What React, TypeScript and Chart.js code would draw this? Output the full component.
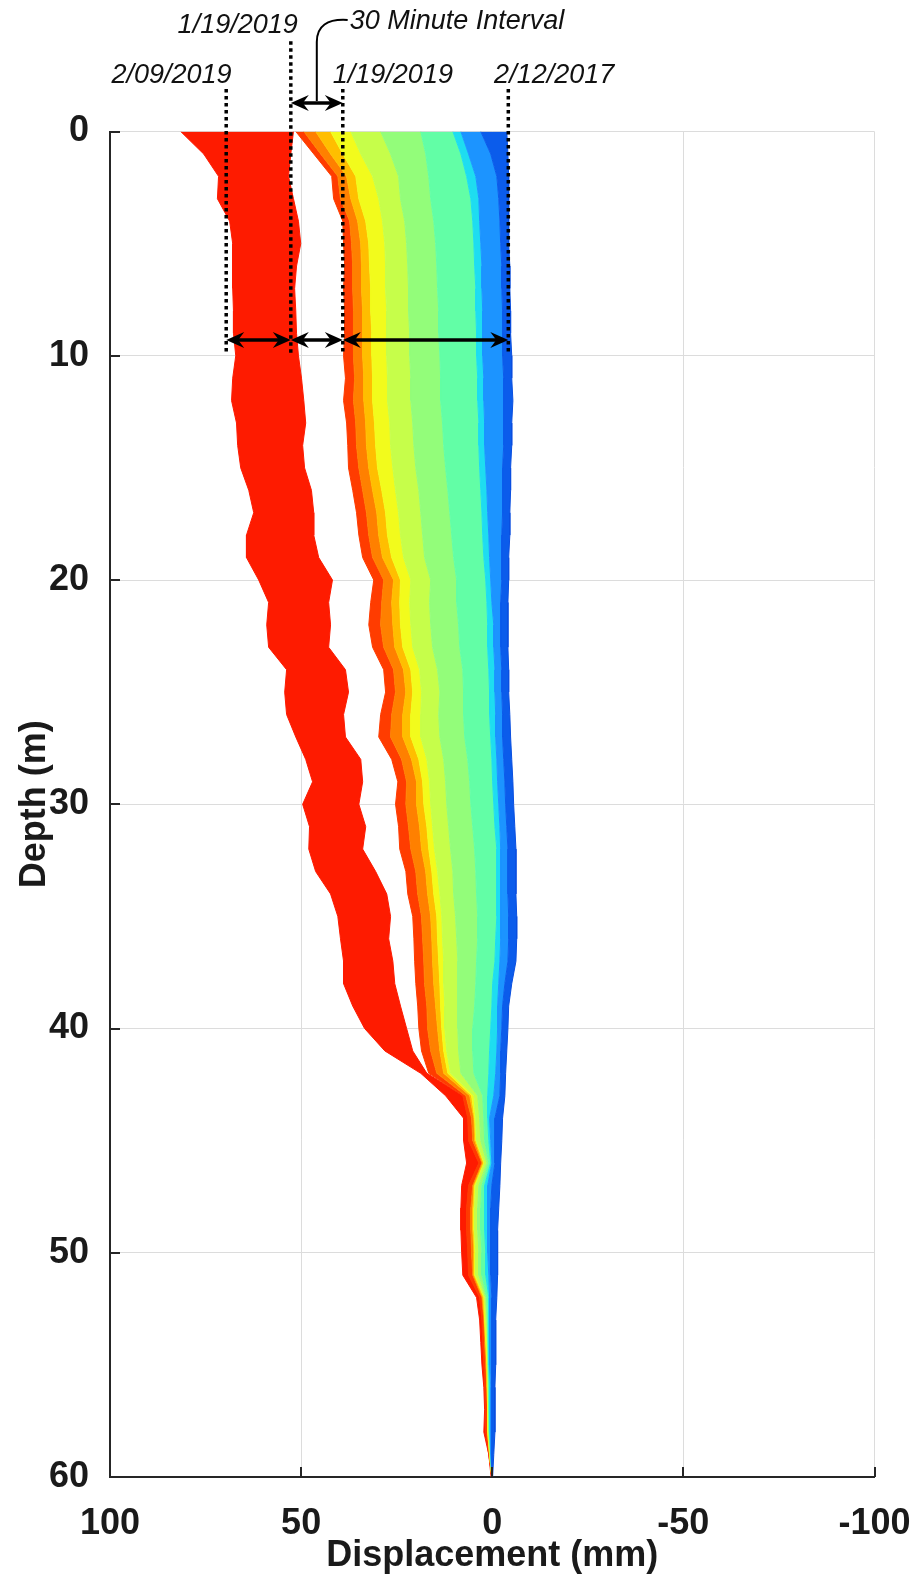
import React, { useEffect, useRef } from 'react';
import { Chart, registerables } from 'chart.js';

Chart.register(...registerables);

// ---------- data (displacement in mm at each depth in m) ----------
const depths = [
  0, 1, 2, 3, 4, 5, 6, 7, 8, 9,
  10, 11, 12, 13, 14, 15, 16, 17, 18, 19,
  20, 21, 22, 23, 24, 25, 26, 27, 28, 29,
  30, 31, 32, 33, 34, 35, 36, 37, 38, 39,
  40, 41, 42, 43, 44, 45, 46, 47, 48, 49,
  50, 51, 52, 53, 54, 55, 56, 57, 58, 59,
  60,
];

// 2/12/2017 (first reading, right blue edge)
const p20170212 = [
  -3.8, -4.1, -4.3, -4.3, -4.3, -4.3, -4.6, -4.6, -4.8, -4.8,
  -5.1, -5.1, -5.4, -5.1, -5.1, -4.8, -4.8, -4.6, -4.6, -4.3,
  -4.3, -4.1, -4.1, -4.1, -4.3, -4.3, -4.6, -4.8, -5.1, -5.4,
  -5.6, -5.9, -6.2, -6.2, -6.2, -6.4, -6.4, -6.2, -5.1, -4.3,
  -4.1, -3.8, -3.5, -3.3, -2.7, -2.5, -2.2, -2.0, -1.7, -1.4,
  -1.4, -1.4, -1.2, -0.9, -0.9, -0.9, -0.7, -0.7, -0.7, -0.4,
  -0.1,
];
const pBlue = [
  3.0, 0.4, -1.2, -1.7, -2.0, -2.2, -2.5, -2.5, -2.7, -2.7,
  -2.7, -3.0, -3.0, -3.0, -3.0, -2.7, -2.7, -2.7, -2.5, -2.5,
  -2.5, -2.2, -2.2, -2.2, -2.5, -2.5, -2.7, -2.7, -3.0, -3.3,
  -3.5, -3.8, -4.1, -4.1, -4.1, -4.3, -4.3, -4.1, -3.3, -2.7,
  -2.5, -2.2, -2.2, -2.0, -0.7, -0.7, -0.7, 0.1, 0.4, 0.4,
  0.4, 0.4, 0.1, 0.1, 0.1, 0.1, 0.1, 0.1, 0.1, 0.1,
  0.1,
];
const pLightBlue = [
  8.2, 6.2, 4.3, 3.5, 3.3, 3.0, 2.7, 2.7, 2.5, 2.5,
  2.5, 2.2, 2.2, 2.0, 2.0, 1.7, 1.4, 1.2, 0.9, 0.7,
  0.4, 0.1, -0.4, -0.4, -0.7, -0.7, -0.9, -0.9, -1.2, -1.4,
  -1.7, -2.0, -2.2, -2.2, -2.2, -2.2, -2.2, -2.0, -1.7, -1.4,
  -1.4, -1.2, -0.9, -0.4, 0.7, 0.4, 0.1, 1.2, 1.2, 1.2,
  1.2, 0.9, 0.7, 0.7, 0.7, 0.7, 0.4, 0.4, 0.4, 0.4,
  0.1,
];
const pCyan = [
  10.3, 8.2, 6.7, 5.6, 5.1, 4.8, 4.6, 4.3, 4.3, 4.1,
  4.1, 3.8, 3.8, 3.5, 3.5, 3.3, 3.0, 2.7, 2.5, 2.2,
  1.7, 1.4, 1.2, 1.2, 0.9, 0.7, 0.7, 0.4, 0.1, -0.1,
  -0.4, -0.7, -1.2, -1.2, -1.2, -1.2, -0.9, -0.7, -0.1, 0.1,
  0.4, 0.7, 0.9, 1.2, 1.2, 0.9, 0.4, 2.0, 2.0, 2.0,
  1.7, 1.7, 0.9, 0.9, 0.9, 0.9, 0.7, 0.7, 0.7, 0.4,
  0.1,
];
const pAqua = [
  18.7, 17.4, 16.6, 16.1, 15.3, 14.8, 14.5, 14.3, 14.0, 14.0,
  13.7, 13.5, 13.5, 13.0, 12.7, 12.2, 11.6, 11.1, 10.6, 10.1,
  9.3, 9.3, 8.8, 8.5, 7.7, 7.5, 7.5, 7.2, 6.4, 5.9,
  5.6, 5.1, 4.6, 4.3, 4.1, 3.8, 3.8, 4.1, 4.3, 4.6,
  5.1, 5.1, 4.8, 2.5, 2.2, 2.0, 0.9, 2.7, 3.0, 3.0,
  2.7, 2.7, 1.4, 1.2, 1.2, 0.9, 0.9, 0.9, 0.7, 0.4,
  0.1,
];
const pGreen = [
  29.2, 26.6, 24.5, 24.0, 22.9, 22.4, 22.1, 21.9, 21.9, 21.6,
  21.6, 21.3, 21.3, 20.8, 20.5, 20.0, 19.2, 18.7, 18.2, 17.7,
  16.1, 16.4, 16.1, 15.6, 14.3, 13.7, 14.0, 13.7, 12.7, 12.2,
  11.9, 11.4, 10.9, 10.3, 10.1, 9.6, 9.3, 9.0, 9.0, 9.0,
  9.0, 8.8, 8.2, 3.8, 3.3, 3.0, 1.4, 3.5, 3.8, 3.8,
  3.5, 3.5, 1.7, 1.4, 1.2, 1.2, 0.9, 0.9, 0.9, 0.4,
  0.1,
];
const pYellowGreen = [
  37.0, 34.4, 31.3, 29.7, 28.7, 28.1, 27.9, 27.9, 27.6, 27.6,
  27.6, 27.4, 27.4, 26.8, 26.6, 26.0, 25.3, 24.5, 24.0, 23.2,
  21.3, 21.6, 21.3, 20.8, 19.0, 18.5, 18.7, 18.7, 17.1, 16.4,
  16.1, 15.6, 15.1, 14.3, 13.7, 13.2, 13.0, 12.7, 12.7, 12.4,
  12.4, 11.9, 10.9, 4.8, 4.3, 4.1, 2.0, 4.3, 4.6, 4.6,
  4.3, 4.3, 2.0, 1.7, 1.4, 1.2, 1.2, 0.9, 0.9, 0.7,
  0.1,
];
const pYellow = [
  42.3, 39.1, 35.7, 34.9, 33.1, 32.3, 32.1, 31.8, 31.8, 31.5,
  31.5, 31.3, 31.3, 30.8, 30.5, 30.0, 28.9, 27.9, 27.4, 26.3,
  24.0, 24.2, 24.0, 23.4, 21.3, 20.8, 21.3, 21.3, 19.2, 18.2,
  17.9, 17.1, 16.6, 15.8, 15.3, 14.5, 14.3, 14.0, 13.7, 13.5,
  13.2, 12.7, 11.6, 5.4, 4.6, 4.3, 2.2, 4.6, 4.8, 4.8,
  4.6, 4.6, 2.2, 2.0, 1.7, 1.4, 1.2, 1.2, 1.2, 0.7,
  0.1,
];
const pAmber = [
  46.2, 42.3, 38.1, 37.0, 35.2, 34.4, 34.2, 34.2, 33.9, 33.9,
  33.9, 33.6, 33.6, 33.1, 32.9, 32.3, 31.3, 30.2, 29.7, 28.7,
  25.8, 26.3, 26.0, 25.5, 23.2, 22.6, 23.4, 23.4, 21.1, 19.8,
  19.8, 19.0, 18.5, 17.4, 16.9, 16.1, 15.8, 15.6, 15.3, 14.8,
  14.3, 13.7, 12.7, 5.9, 4.8, 4.6, 2.5, 4.8, 5.1, 5.1,
  4.8, 4.8, 2.5, 2.0, 1.7, 1.4, 1.4, 1.2, 1.2, 0.7,
  0.1,
];
const pOrange = [
  49.3, 44.9, 40.4, 39.7, 37.3, 36.8, 36.5, 36.5, 36.3, 36.3,
  36.3, 36.0, 36.3, 35.7, 35.5, 34.9, 33.9, 32.9, 32.3, 31.3,
  28.4, 28.9, 29.2, 28.4, 25.8, 25.3, 26.3, 26.6, 23.7, 22.4,
  22.6, 21.9, 21.3, 20.0, 19.5, 18.5, 18.2, 17.9, 17.7, 17.1,
  16.9, 16.1, 14.5, 6.9, 5.4, 5.1, 2.7, 5.1, 5.6, 5.6,
  5.4, 5.1, 2.7, 2.2, 2.0, 1.7, 1.4, 1.2, 1.2, 0.7,
  0.1,
];
// 1/19/2019, last reading before the jump
const p20190119a = [
  51.4, 46.7, 42.0, 41.5, 39.1, 38.9, 38.6, 38.9, 38.6, 38.6,
  38.9, 38.4, 38.9, 38.1, 37.8, 37.6, 36.5, 35.5, 34.9, 33.9,
  31.0, 31.8, 32.3, 31.3, 28.4, 27.9, 29.2, 29.7, 26.3, 24.7,
  25.3, 24.5, 24.2, 22.6, 22.1, 20.8, 20.5, 20.3, 20.0, 19.5,
  19.2, 18.5, 16.6, 7.7, 6.4, 6.2, 3.5, 6.2, 6.7, 6.7,
  6.4, 6.2, 3.3, 2.7, 2.5, 2.2, 2.0, 1.7, 1.7, 0.9,
  0.1,
];
// 1/19/2019, 30 minutes later
const p20190119b = [
  52.0, 52.7, 53.3, 52.0, 50.7, 50.1, 51.2, 51.7, 51.4, 51.2,
  50.7, 49.9, 49.3, 48.8, 49.6, 49.1, 47.3, 46.7, 46.7, 45.4,
  41.8, 42.8, 42.3, 42.8, 38.4, 37.6, 38.9, 38.4, 34.4, 33.9,
  34.9, 33.1, 33.9, 30.5, 27.6, 26.6, 27.1, 26.0, 25.5, 24.0,
  22.4, 20.8, 17.1, 7.7, 6.4, 6.2, 3.5, 6.2, 6.7, 6.7,
  6.4, 6.2, 3.3, 2.7, 2.5, 2.2, 2.0, 1.7, 1.7, 0.9,
  0.1,
];
// 2/09/2019 (last reading)
const p20190209 = [
  81.5, 75.5, 71.6, 71.9, 68.7, 67.9, 67.9, 67.9, 67.7, 67.7,
  67.1, 67.9, 68.2, 66.9, 66.6, 65.8, 63.7, 62.4, 64.3, 64.3,
  61.1, 58.5, 59.0, 58.5, 53.8, 54.3, 53.8, 51.4, 48.8, 47.0,
  49.6, 47.8, 48.0, 46.2, 42.3, 40.4, 39.7, 38.9, 38.9, 36.5,
  33.4, 28.1, 18.7, 12.2, 7.5, 7.5, 6.7, 8.0, 8.2, 8.2,
  8.0, 7.7, 4.1, 3.3, 3.0, 2.7, 2.2, 2.0, 2.2, 0.9,
  0.3,
];

// annotation values
const markerLabels = ['2/09/2019', '1/19/2019', '1/19/2019', '2/12/2017'];
const markerValues = [69.6, 52.7, 39.1, -4.2];
const arrowDepth = 9.3;
const intervalLabel = '30 Minute Interval';

const xTickValues = [100, 50, 0, -50, -100];
const yTickValues = [0, 10, 20, 30, 40, 50, 60];

// ---------- styling / layout ----------
const FONT = "'Liberation Sans', Arial, Helvetica, sans-serif";
const series = [
  { name: '2/12/2017', values: p20170212, color: '#0A4FE0', fill: false as const },
  { name: 'blue', values: pBlue, color: '#0B5CEB', fill: '-1' },
  { name: 'lightblue', values: pLightBlue, color: '#1C94FF', fill: '-1' },
  { name: 'cyan', values: pCyan, color: '#1EDDF0', fill: '-1' },
  { name: 'aqua', values: pAqua, color: '#62FEA6', fill: '-1' },
  { name: 'green', values: pGreen, color: '#93FD7A', fill: '-1' },
  { name: 'yellowgreen', values: pYellowGreen, color: '#C6FE4A', fill: '-1' },
  { name: 'yellow', values: pYellow, color: '#F2FB1C', fill: '-1' },
  { name: 'amber', values: pAmber, color: '#FFBE00', fill: '-1' },
  { name: 'orange', values: pOrange, color: '#FF8000', fill: '-1' },
  { name: '1/19/2019 a', values: p20190119a, color: '#FF3C00', fill: '-1' },
  { name: '1/19/2019 b', values: p20190119b, color: '#FE1B00', fill: false as const },
  { name: '2/09/2019', values: p20190209, color: '#FE1B00', fill: '-1' },
];

// label / line layout (in data units)
const markerTopDepth = [-1.89, -4.03, -1.89, -1.89];
const markerBottomDepth = 9.9;
const labelCenters = [83.9, 66.6, 26.0, -16.2];
const labelDepths = [-2.16, -4.39, -2.16, -2.16];
const intervalArrowDepth = -1.27;
const intervalLabelX = 37.3;
const intervalLabelDepth = -4.57;

const annotationPlugin = {
  id: 'annotations',
  afterDatasetsDraw(chart: any) {
    const { ctx, scales } = chart;
    const xs = scales.x;
    const ys = scales.y;
    const px = (v: number) => xs.getPixelForValue(v);
    const py = (d: number) => ys.getPixelForValue(d);
    ctx.save();

    // inward tick marks
    const area = chart.chartArea;
    ctx.strokeStyle = '#262626';
    ctx.lineWidth = 2;
    ctx.beginPath();
    xTickValues.forEach((v) => {
      if (v === 100) return;
      const x = Math.round(px(v));
      ctx.moveTo(x, area.bottom);
      ctx.lineTo(x, area.bottom - 10);
    });
    yTickValues.forEach((d) => {
      if (d === 60) return;
      const y = Math.round(py(d));
      ctx.moveTo(area.left, y);
      ctx.lineTo(area.left + 10, y);
    });
    ctx.stroke();

    // dotted date lines
    ctx.strokeStyle = '#000';
    ctx.lineWidth = 3.5;
    ctx.setLineDash([3.5, 3.5]);
    markerValues.forEach((v, i) => {
      const x = px(v);
      ctx.beginPath();
      ctx.moveTo(x, py(markerTopDepth[i]));
      ctx.lineTo(x, py(markerBottomDepth));
      ctx.stroke();
    });
    ctx.setLineDash([]);

    // double-headed arrows
    const head = (tipX: number, y: number, dir: number) => {
      const L = 18, W = 8, N = 12;
      ctx.beginPath();
      ctx.moveTo(tipX, y);
      ctx.lineTo(tipX - dir * L, y - W);
      ctx.lineTo(tipX - dir * N, y);
      ctx.lineTo(tipX - dir * L, y + W);
      ctx.closePath();
      ctx.fill();
    };
    const arrow = (a: number, b: number, d: number) => {
      const x1 = Math.min(px(a), px(b));
      const x2 = Math.max(px(a), px(b));
      const y = py(d);
      ctx.strokeStyle = '#000';
      ctx.fillStyle = '#000';
      ctx.lineWidth = 3.5;
      ctx.beginPath();
      ctx.moveTo(x1 + 8, y);
      ctx.lineTo(x2 - 8, y);
      ctx.stroke();
      head(x1, y, -1);
      head(x2, y, 1);
    };
    for (let i = 0; i < markerValues.length - 1; i++) {
      arrow(markerValues[i], markerValues[i + 1], arrowDepth);
    }
    arrow(markerValues[1], markerValues[2], intervalArrowDepth);

    // leader for 30 minute label
    const midX = (px(markerValues[1]) + px(markerValues[2])) / 2;
    const lx = px(intervalLabelX);
    const ly = py(intervalLabelDepth) - 9;
    ctx.lineWidth = 2;
    ctx.beginPath();
    ctx.moveTo(lx - 2, ly);
    ctx.quadraticCurveTo(midX, ly - 2, midX, ly + 22);
    ctx.lineTo(midX, py(intervalArrowDepth) - 2);
    ctx.stroke();

    // labels
    ctx.fillStyle = '#111';
    ctx.font = `italic 27px ${FONT}`;
    ctx.textBaseline = 'alphabetic';
    ctx.textAlign = 'center';
    markerLabels.forEach((t, i) => {
      ctx.fillText(t, px(labelCenters[i]), py(labelDepths[i]));
    });
    ctx.textAlign = 'left';
    ctx.fillText(intervalLabel, lx, py(intervalLabelDepth));
    ctx.restore();
  },
};

export default function App() {
  const ref = useRef<HTMLCanvasElement>(null);
  useEffect(() => {
    if (!ref.current) return;
    const datasets: any[] = series.map((s) => ({
      label: s.name,
      data: depths.map((d, i) => ({ x: s.values[i], y: d })),
      borderColor: s.color,
      backgroundColor: s.color,
      borderWidth: 1,
      pointRadius: 0,
      pointHitRadius: 0,
      tension: 0,
      fill: s.fill,
    }));
    const chart = new Chart(ref.current, {
      type: 'line',
      data: { datasets },
      plugins: [annotationPlugin],
      options: {
        responsive: false,
        animation: false,
        devicePixelRatio: 1,
        indexAxis: 'y',
        events: [],
        layout: { padding: { left: 0, top: 131.5, right: 44.5, bottom: 0 } },
        plugins: {
          legend: { display: false },
          tooltip: { enabled: false },
        },
        scales: {
          x: {
            type: 'linear',
            position: 'bottom',
            min: -100,
            max: 100,
            reverse: true,
            afterBuildTicks: (scale: any) => {
              scale.ticks = xTickValues.map((v) => ({ value: v }));
            },
            afterFit: (scale: any) => {
              scale.height = 110;
              scale.paddingLeft = 0;
              scale.paddingRight = 0;
            },
            grid: { color: '#DCDCDC', lineWidth: 1, drawTicks: false },
            border: { display: true, color: '#262626', width: 2 },
            ticks: {
              padding: 25,
              color: '#1a1a1a',
              font: { family: FONT, size: 36, weight: 'bold' },
            },
            title: {
              display: true,
              text: 'Displacement (mm)',
              color: '#1a1a1a',
              font: { family: FONT, size: 36, weight: 'bold' },
              padding: { top: 0, bottom: 9.5 },
            },
          },
          y: {
            type: 'linear',
            position: 'left',
            min: 0,
            max: 60,
            reverse: true,
            afterBuildTicks: (scale: any) => {
              scale.ticks = yTickValues.map((v) => ({ value: v }));
            },
            afterFit: (scale: any) => {
              scale.width = 110;
              scale.paddingTop = 0;
              scale.paddingBottom = 0;
            },
            grid: { color: '#DCDCDC', lineWidth: 1, drawTicks: false },
            border: { display: true, color: '#262626', width: 2 },
            ticks: {
              padding: 21,
              color: '#1a1a1a',
              font: { family: FONT, size: 36, weight: 'bold' },
            },
            title: {
              display: true,
              text: 'Depth (m)',
              color: '#1a1a1a',
              font: { family: FONT, size: 36, weight: 'bold' },
              padding: { top: 13.8, bottom: 0 },
            },
          },
        },
      } as any,
    });
    return () => chart.destroy();
  }, []);
  return (
    <div style={{ position: 'absolute', left: 0, top: 0, width: 919, height: 1587, background: '#fff' }}>
      <canvas ref={ref} width={919} height={1587} style={{ display: 'block' }} />
    </div>
  );
}
